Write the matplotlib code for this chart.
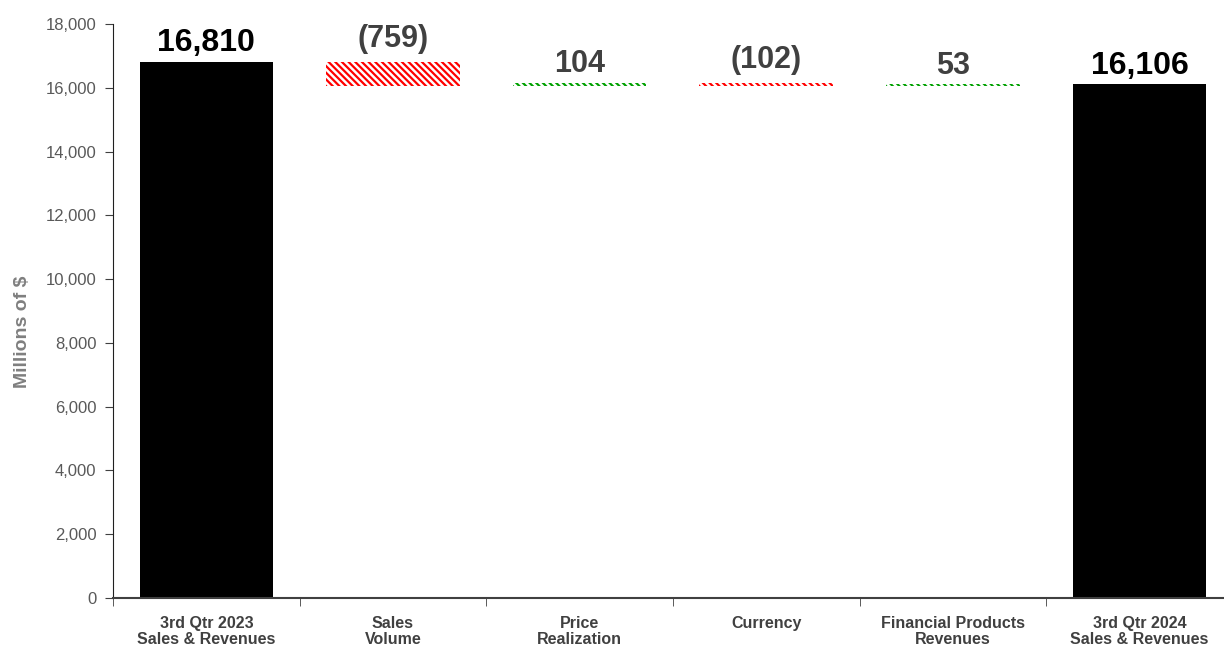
import matplotlib
matplotlib.use("Agg")
import matplotlib.pyplot as plt

categories = ["3rd Qtr 2023\nSales & Revenues", "Sales\nVolume", "Price\nRealization",
              "Currency", "Financial Products\nRevenues", "3rd Qtr 2024\nSales & Revenues"]
start_total = 16810
changes = [-759, 104, -102, 53]
end_total = 16106
value_labels = ["16,810", "(759)", "104", "(102)", "53", "16,106"]
yticks = list(range(0, 18001, 2000))

plt.rcParams["hatch.linewidth"] = 1.6

fig = plt.figure(figsize=(12.24, 6.46), dpi=100)
ax = fig.add_axes([113/1224, 1-598/646, (1232.8-113)/1224, (598-24)/646])

width = 0.715
x = list(range(len(categories)))

# totals
ax.bar(x[0], start_total, width=width, color="black", zorder=2)
ax.bar(x[-1], end_total, width=width, color="black", zorder=2)

# deltas
running = start_total
tops = [start_total]
for i, c in enumerate(changes, start=1):
    bottom = running + min(c, 0)
    col = "#ff0000" if c < 0 else "#00a000"
    ax.bar(x[i], abs(c), bottom=bottom, width=width, color="white",
           edgecolor=col, hatch="\\\\\\\\\\", linewidth=0, zorder=2)
    running += c
    tops.append(max(running, running - c))
tops.append(end_total)

for i, (lab, top) in enumerate(zip(value_labels, tops)):
    total = i in (0, len(categories) - 1)
    extra = 120 if lab.startswith("(") else 0
    ax.text(x[i], top + 340 + extra, lab, ha="center", va="baseline",
            fontsize=23 if total else 22, fontweight="bold",
            color="black" if total else "#404040", family="Liberation Sans")

ax.set_xlim(-0.5, 5.5)
ax.set_ylim(0, 18000)
ax.set_yticks(yticks)
ax.set_yticklabels([f"{v:,}" for v in yticks], fontsize=12, color="#595959",
                   family="Liberation Sans")
ax.set_xticks(x)
ax.set_xticklabels(categories, fontsize=11.5, fontweight="bold", color="#404040",
                   family="Liberation Sans", linespacing=1.05)
ax.tick_params(axis="x", length=0, pad=13)
ax.set_xticks([i - 0.5 for i in range(len(categories) + 1)], minor=True)
ax.tick_params(axis="x", which="minor", length=6, direction="out", color="#404040")
ax.tick_params(axis="y", length=6, direction="out", color="#404040", pad=6)

for s in ["top", "right"]:
    ax.spines[s].set_visible(False)
ax.spines["left"].set_color("#202020")
ax.spines["bottom"].set_color("#404040")
ax.spines["bottom"].set_linewidth(1.5)

ax.set_ylabel("Millions of $", fontsize=14, fontweight="bold", color="#7f7f7f",
              family="Liberation Sans")
ax.yaxis.set_label_coords(-0.073, 0.463)

fig.savefig("out.png", dpi=100)
